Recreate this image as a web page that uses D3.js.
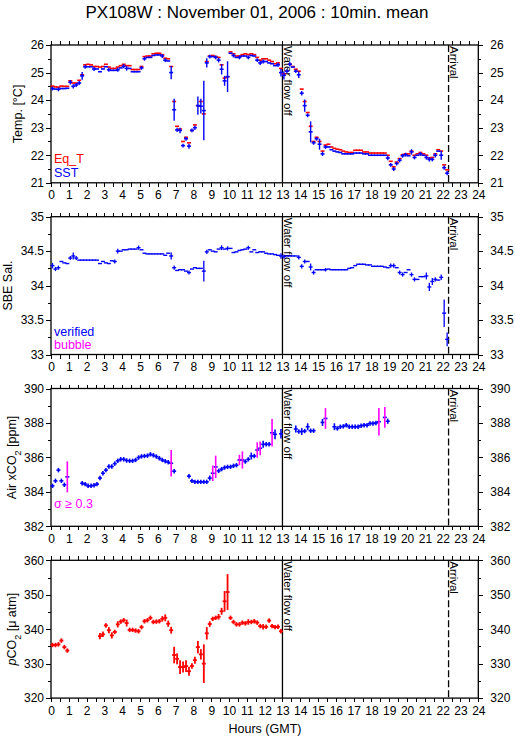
<!DOCTYPE html>
<html><head><meta charset="utf-8">
<script src="https://cdn.jsdelivr.net/npm/d3@7"></script>
<style>
body{margin:0;background:#fff}
text{font-family:"Liberation Sans",Arial,Helvetica,sans-serif;fill:#000}
</style>
</head><body>
<svg id="chart" width="515" height="739"></svg>
<script>
// ---------------- DATA (10-minute means, bin i starts at i*10 min) ----------------
const title = "PX108W : November 01, 2006 : 10min. mean";
const hourTicks = d3.range(0, 25);
const waterOffHour = 13.0;
const arrivalHour = 22.33;

// Temperature panel
const tempTicks = [21, 22, 23, 24, 25, 26];
const eqT = [
 24.51,24.48,24.47,24.51,24.50,24.50,
 24.70,24.62,24.62,24.72,24.92,25.28,
 25.30,25.28,25.22,25.22,25.20,25.22,
 25.30,25.20,25.15,25.15,25.20,25.25,
 25.30,25.25,25.25,25.11,25.11,25.11,
 25.22,25.58,25.60,25.60,25.68,25.70,
 25.70,25.65,25.52,25.50,25.22,23.95,
 23.05,22.95,22.50,22.65,22.45,22.90,
 23.10,23.80,23.95,23.50,25.40,25.60,
 25.62,25.58,25.55,25.28,24.80,24.85,
 25.75,25.68,25.60,25.60,25.65,25.68,
 25.65,25.68,25.65,25.55,25.45,25.50,
 25.50,25.45,25.40,25.32,25.35,25.15,
 24.95,25.05,25.30,25.22,25.12,25.05,
 24.40,23.95,23.55,23.05,22.50,22.65,
 22.50,22.15,22.37,22.40,22.30,22.25,
 22.22,22.20,22.15,22.12,22.10,22.10,
 22.18,22.18,22.18,22.12,22.12,22.08,
 22.08,22.08,22.08,22.08,22.08,22.00,
 21.78,21.58,21.75,21.88,22.02,22.05,
 22.05,22.15,22.00,22.05,22.10,22.05,
 22.00,21.90,21.92,22.05,22.20,22.15,
 21.65,21.47
];
const sst = [
 24.42,24.40,24.39,24.42,24.42,24.43,
 24.65,24.50,24.55,24.62,24.88,25.21,
 25.21,25.21,25.13,25.13,25.03,25.13,
 25.21,25.10,25.08,25.08,25.10,25.17,
 25.23,25.15,25.15,25.03,25.03,25.03,
 25.17,25.50,25.55,25.55,25.62,25.64,
 25.64,25.60,25.45,25.42,25.00,23.65,
 22.92,22.90,22.35,22.60,22.33,22.90,
 23.00,23.80,23.78,23.62,25.35,25.58,
 25.58,25.55,25.45,25.12,24.70,24.85,
 25.70,25.62,25.55,25.55,25.60,25.60,
 25.55,25.62,25.60,25.45,25.35,25.40,
 25.40,25.35,25.32,25.25,25.28,25.00,
 24.90,25.05,25.30,25.20,25.05,24.92,
 24.25,23.80,23.45,22.85,22.45,22.60,
 22.40,22.05,22.30,22.30,22.20,22.15,
 22.12,22.10,22.05,22.05,22.05,22.05,
 22.08,22.08,22.08,22.05,22.05,22.00,
 22.00,22.00,22.00,22.00,22.00,21.90,
 21.65,21.50,21.70,21.82,21.98,22.02,
 21.98,22.12,21.92,22.00,22.05,22.00,
 21.92,21.85,21.85,22.00,22.15,22.00,
 21.55,21.35
];
const sstErr = [[0,0.07],[2,0.07],[6,0.08],[7,0.08],[8,0.07],[9,0.07],[10,0.14],[11,0.07],
 [14,0.07],[19,0.07],[22,0.07],[24,0.07],[25,0.08],[30,0.07],[31,0.07],[37,0.07],[38,0.07],
 [40,0.24],[41,0.4],[42,0.08],[43,0.1],[44,0.07],[45,0.07],[46,0.09],[47,0.07],[48,0.08],
 [49,0.33],[50,0.27],[51,1.08],[52,0.17],[53,0.07],[55,0.07],[56,0.08],[57,0.19],[58,0.18],
 [59,0.56],[61,0.07],[63,0.07],[66,0.07],[69,0.07],[70,0.08],[71,0.07],[76,0.08],[77,0.14],
 [78,0.15],[79,0.07],[80,0.08],[82,0.07],[83,0.12],[84,0.08],[85,0.22],[86,0.07],[87,0.38],
 [88,0.07],[89,0.07],[90,0.2],[91,0.08],[92,0.07],[113,0.08],[114,0.07],[115,0.07],[116,0.07],
 [117,0.08],[118,0.07],[119,0.07],[121,0.1],[122,0.07],[124,0.07],[126,0.08],[127,0.08],
 [128,0.07],[129,0.08],[131,0.16],[132,0.08],[133,0.08]];

// Salinity panel
const salTicks = [33, 33.5, 34, 34.5, 35];
const sal = [
 34.29,34.24,34.26,34.35,34.33,34.32,
 34.40,34.43,34.40,34.37,34.37,34.37,
 34.37,34.37,34.37,34.37,34.32,34.35,
 34.33,34.32,34.36,34.35,34.50,34.50,
 34.52,34.52,34.53,34.53,34.53,34.55,
 34.52,34.47,34.46,34.46,34.46,34.46,
 34.46,34.46,34.44,34.47,34.43,34.26,
 34.22,34.23,34.23,34.21,34.19,34.24,
 34.26,34.25,34.25,34.21,34.49,34.52,
 34.50,34.49,34.53,34.55,34.53,34.54,
 34.54,34.48,34.49,34.51,34.52,34.53,
 34.55,34.49,34.52,34.48,34.49,34.49,
 34.47,34.46,34.46,34.45,34.44,34.43,
 34.42,34.43,34.43,34.43,34.43,34.41,
 34.28,34.35,34.35,34.27,34.19,34.23,
 34.23,34.23,34.23,34.24,34.23,34.23,
 34.23,34.23,34.23,34.23,34.25,34.26,
 34.29,34.31,34.31,34.31,34.30,34.30,
 34.28,34.28,34.28,34.28,34.27,34.26,
 34.29,34.29,34.26,34.19,34.16,34.19,
 34.23,34.16,34.09,34.09,34.13,34.13,
 34.14,33.98,34.06,34.09,34.08,34.12,
 33.60,33.22
];
const salErr = [[0,0.04],[1,0.03],[2,0.03],[6,0.03],[7,0.05],[8,0.03],[21,0.03],[22,0.035],
 [29,0.03],[40,0.05],[41,0.03],[46,0.03],[51,0.15],[52,0.03],[57,0.035],[59,0.03],[66,0.03],
 [77,0.04],[78,0.03],[83,0.03],[84,0.03],[85,0.03],[87,0.05],[88,0.03],[92,0.025],
 [114,0.03],[115,0.03],[117,0.03],[118,0.03],[121,0.03],[122,0.03],[126,0.05],[127,0.06],
 [128,0.05],[129,0.03],[131,0.04],[132,0.2],[133,0.1]];

// Air xCO2 panel
const co2Ticks = [382, 384, 386, 388, 390];
const airCO2 = [
 384.35,384.64,385.26,384.64,384.41,384.87,
 null,null,null,null,384.50,384.45,
 384.35,384.35,384.38,384.45,384.80,385.08,
 385.26,385.47,385.47,385.64,385.80,385.89,
 385.89,385.82,385.80,385.80,385.85,385.99,
 386.06,386.08,386.10,386.18,386.12,386.05,
 385.95,385.85,385.78,385.72,385.66,385.20,
 null,null,null,null,384.91,384.64,
 384.58,384.58,384.58,384.58,384.58,384.80,
 385.08,385.45,385.22,385.32,385.41,385.45,
 385.45,385.51,385.55,385.85,385.85,385.76,
 385.89,386.08,386.08,386.43,386.53,386.76,
 386.76,386.76,387.43,387.34,null,387.37,
 null,null,null,null,387.65,387.50,
 387.50,387.53,387.78,387.55,387.55,null,
 null,388.03,388.26,null,null,387.78,
 387.68,387.78,387.80,387.87,387.78,387.78,
 387.78,387.78,387.84,387.87,387.87,387.97,
 387.97,388.00,388.07,null,388.32,388.10
];
const co2Err = [[5,0.9],[40,0.77],[53,0.15],[54,0.45],[55,0.65],[63,0.3],[64,0.5],[67,0.2],
 [69,0.45],[70,0.4],[71,0.2],[74,0.8],[75,0.28],[77,0.28],[82,0.2],[84,0.2],[86,0.2],
 [91,0.2],[92,0.6],[95,0.2],[110,0.8],[112,0.6],[113,0.15]];
const sigmaLimit = 0.3;

// pCO2 panel
const pco2Ticks = [320, 330, 340, 350, 360];
const pco2 = [
 335.4,335.4,335.6,336.7,334.8,333.8,
 null,null,null,null,null,null,
 null,null,null,null,338.0,338.5,
 341.1,339.7,338.2,339.2,341.4,342.2,
 342.6,341.8,339.8,339.8,339.6,339.4,
 340.6,342.3,342.6,343.3,342.1,342.2,
 342.3,343.0,343.3,341.6,339.7,332.5,
 331.4,329.0,329.0,329.3,327.8,329.3,
 331.0,334.8,332.7,330.0,338.8,341.5,
 343.0,343.3,343.6,345.2,348.1,350.8,
 343.3,342.1,341.4,341.4,341.9,341.7,
 342.1,342.1,342.3,341.9,340.9,340.7,
 340.7,342.5,340.9,340.6,340.7,339.4
];
const pco2Err = [[16,0.9],[17,0.8],[19,0.9],[20,0.9],[22,0.9],[25,1.0],[37,0.8],[38,1.0],
 [39,0.9],[40,1.0],[41,2.4],[42,1.6],[43,2.0],[44,1.6],[45,1.7],[46,1.3],[47,0.8],[48,1.0],
 [49,1.8],[50,1.5],[51,5.6],[52,1.8],[53,0.8],[56,0.8],[57,1.0],[58,3.0],[59,5.2],[66,0.8],
 [71,0.8],[73,0.6],[77,0.6]];

// ---------------- DRAWING ----------------
const BLUE = "#0000ff", RED = "#ff0000", MAG = "#ff00ff";
const svg = d3.select("#chart");
const X0 = 51, X1 = 478.3, PH = 137.8;
const x = d3.scaleLinear().domain([0, 24]).range([X0, X1]);
const binW = 1/6;

svg.append("text").attr("x", 257).attr("y", 18).attr("text-anchor", "middle")
  .attr("font-size", 17).text(title);

function panel(top, domain, ticks, minorStep, fmt) {
  const y = d3.scaleLinear().domain(domain).range([top + PH, top]);
  const g = svg.append("g");
  const minor = d3.range(domain[0], domain[1] + 1e-9, minorStep);
  const halfHours = d3.range(0, 24.01, 0.5);
  g.append("g").attr("transform", `translate(${X0},0)`)
    .call(d3.axisLeft(y).tickValues(minor).tickSize(3).tickFormat(""));
  g.append("g").attr("transform", `translate(${X0},0)`)
    .call(d3.axisLeft(y).tickValues(ticks).tickSize(5).tickPadding(2).tickFormat(fmt));
  g.append("g").attr("transform", `translate(${X1},0)`)
    .call(d3.axisRight(y).tickValues(minor).tickSize(3).tickFormat(""));
  g.append("g").attr("transform", `translate(${X1},0)`)
    .call(d3.axisRight(y).tickValues(ticks).tickSize(5).tickPadding(7).tickFormat(fmt));
  g.append("g").attr("transform", `translate(0,${top + PH})`)
    .call(d3.axisBottom(x).tickValues(halfHours).tickSize(4).tickFormat(""));
  g.append("g").attr("transform", `translate(0,${top + PH})`)
    .call(d3.axisBottom(x).tickValues(hourTicks).tickSize(4).tickPadding(4).tickFormat(d3.format("d")));
  g.append("g").attr("transform", `translate(0,${top})`)
    .call(d3.axisTop(x).tickValues(halfHours).tickSize(4).tickFormat(""));
  g.selectAll(".domain").remove();
  g.selectAll(".tick line").attr("stroke", "#000").attr("shape-rendering", "crispEdges");
  g.selectAll(".tick text").attr("font-size", 12).attr("font-family", '"Liberation Sans",Arial,sans-serif');
  g.append("rect").attr("x", X0).attr("y", top).attr("width", X1 - X0).attr("height", PH)
    .attr("fill", "none").attr("stroke", "#000").attr("stroke-width", 1.3);
  g.append("line").attr("x1", x(waterOffHour)).attr("x2", x(waterOffHour))
    .attr("y1", top).attr("y2", top + PH).attr("stroke", "#000").attr("stroke-width", 1.3);
  g.append("line").attr("x1", x(arrivalHour)).attr("x2", x(arrivalHour))
    .attr("y1", top).attr("y2", top + PH).attr("stroke", "#000").attr("stroke-width", 1.3)
    .attr("stroke-dasharray", "7,3");
  g.append("text").attr("transform", `translate(${x(waterOffHour) + 1.5},${top + 1}) rotate(90)`)
    .attr("font-size", 11.5).text("Water flow off");
  g.append("text").attr("transform", `translate(${x(arrivalHour) + 1.5},${top + 1}) rotate(90)`)
    .attr("font-size", 11.5).text("Arrival");
  return {g, y, top};
}

function markers(p, vals, errPairs, color, errColor, opt) {
  const errMap = new Map(errPairs || []);
  const data = vals.map((v, i) => ({i, v, e: errMap.get(i) || 0})).filter(d => d.v != null);
  const gg = p.g.append("g");
  gg.selectAll("line.h").data(data).join("line").attr("class", "h")
    .attr("x1", d => x(d.i * binW) - 0.5).attr("x2", d => x((d.i + 1) * binW) + 0.5)
    .attr("y1", d => p.y(d.v)).attr("y2", d => p.y(d.v))
    .attr("stroke", color).attr("stroke-width", opt.hw);
  if (!opt.vert) return;
  const m = opt.minHalf;
  gg.selectAll("line.v").data(data.filter(d => d.e > 0 || m >= 1.5)).join("line").attr("class", "v")
    .attr("x1", d => x((d.i + 0.5) * binW)).attr("x2", d => x((d.i + 0.5) * binW))
    .attr("y1", d => Math.min(p.y(d.v + d.e), p.y(d.v) - m))
    .attr("y2", d => Math.max(p.y(d.v - d.e), p.y(d.v) + m))
    .attr("stroke", d => errColor(d)).attr("stroke-width", opt.vw);
}

function yLabel(xb, top, parts) {
  const t = svg.append("text").attr("text-anchor", "middle").attr("font-size", 12.5)
    .attr("transform", `translate(${xb},${top + PH / 2}) rotate(-90)`);
  parts.forEach(pt => {
    const s = t.append("tspan").text(pt.t);
    if (pt.sub) s.attr("font-size", 9).attr("baseline-shift", "sub");
    if (pt.it) s.attr("font-style", "italic");
  });
}

// Panel 1: temperatures
const p1 = panel(45, [21, 26], tempTicks, 0.5, d3.format("d"));
markers(p1, eqT, null, RED, null, {hw: 1.6, vert: false});
markers(p1, sst, sstErr, BLUE, () => BLUE, {hw: 1.6, vw: 1.4, vert: true, minHalf: 1});
yLabel(22, 45, [{t: "Temp. [°C]"}]);
svg.append("text").attr("x", 54).attr("y", 163).attr("font-size", 12.5).style("fill", RED).text("Eq_T");
svg.append("text").attr("x", 54).attr("y", 177).attr("font-size", 12.5).style("fill", BLUE).text("SST");

// Panel 2: salinity
const p2 = panel(216.7, [33, 35], salTicks, 0.25, d => String(d));
markers(p2, sal, salErr, BLUE, () => BLUE, {hw: 1.4, vw: 1.3, vert: true, minHalf: 1});
yLabel(12, 216.7, [{t: "SBE Sal."}]);
svg.append("text").attr("x", 54).attr("y", 336).attr("font-size", 12.5).style("fill", BLUE).text("verified");
svg.append("text").attr("x", 54).attr("y", 349).attr("font-size", 12.5).style("fill", MAG).text("bubble");

// Panel 3: air xCO2
const p3 = panel(388.5, [382, 390], co2Ticks, 1, d3.format("d"));
markers(p3, airCO2, co2Err, BLUE, d => d.e >= sigmaLimit ? MAG : BLUE, {hw: 1.6, vw: 1.6, vert: true, minHalf: 2.2});
yLabel(16, 388.5, [{t: "Air xCO"}, {t: "2", sub: true}, {t: " [ppm]"}]);
svg.append("text").attr("x", 54).attr("y", 508).attr("font-size", 12.5).style("fill", MAG).text("σ ≥ 0.3");

// Panel 4: pCO2
const p4 = panel(560.3, [320, 360], pco2Ticks, 5, d3.format("d"));
markers(p4, pco2, pco2Err, RED, () => RED, {hw: 1.8, vw: 1.8, vert: true, minHalf: 2.2});
yLabel(16, 560.3, [{t: "p", it: true}, {t: "CO"}, {t: "2", sub: true}, {t: " [μ atm]"}]);

svg.append("text").attr("x", 265).attr("y", 733).attr("text-anchor", "middle")
  .attr("font-size", 12.5).text("Hours (GMT)");
</script>
</body></html>
